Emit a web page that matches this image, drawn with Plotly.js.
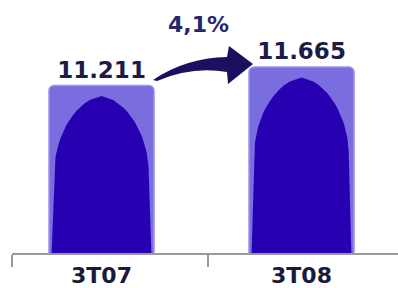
<!DOCTYPE html>
<html><head><meta charset="utf-8">
<script src="https://cdn.plot.ly/plotly-3.0.1.min.js"></script>
<style>html,body{margin:0;padding:0;background:#fff}#c{width:398px;height:288px}</style>
</head><body><div id="c"></div>
<script>
const categories = ['3T07', '3T08'];
const values = [11211, 11665];
const changeLabel = ['4,1%'];
const xPos = [0, 1];

const W = 398, H = 288, ML = 12, MB = 35;
const yRange = [7100, 13310];
const xRange = [-0.4475, 1.4825];
const plotH = H - MB, plotW = W - ML;
const uPerPx = (yRange[1] - yRange[0]) / plotH;
const barW = 0.525;

const FONT = 'DejaVu Sans, Verdana, sans-serif';
const traces = [];
traces.push({
  type: 'bar', x: xPos, y: values, width: barW,
  marker: {color: '#7a6ddf', line: {color: '#9c92ec', width: 1.5}, cornerradius: 5},
  text: values, texttemplate: '%{y:,.0f}', textposition: 'outside',
  textfont: {family: FONT, size: 23, weight: 'bold', color: '#1c1c48'},
  constraintext: 'none', cliponaxis: false, hoverinfo: 'skip'
});
values.forEach((v, i) => {
  const cx = xPos[i];
  const hw = barW / 2 * 0.9, hwBase = barW / 2 * 0.95;
  const apex = v - 10.5 * uPerPx;
  const depth = 78 * uPerPx;
  const xs = [], ys = [];
  xs.push(cx - hwBase); ys.push(yRange[0]);
  for (let k = 20; k >= 0; k--) { const s = k / 20; xs.push(cx - hw * Math.pow(1 - (1 - s) * (1 - s), 0.6)); ys.push(apex - s * depth); }
  for (let k = 1; k <= 20; k++) { const s = k / 20; xs.push(cx + hw * Math.pow(1 - (1 - s) * (1 - s), 0.6)); ys.push(apex - s * depth); }
  xs.push(cx + hwBase); ys.push(yRange[0]);
  traces.push({type: 'scatter', x: xs, y: ys, mode: 'lines', fill: 'toself', fillcolor: '#2700b2',
    line: {width: 0, color: '#2700b2'}, hoverinfo: 'skip', showlegend: false});
});

function P(px, py) { return ((px - ML) / plotW).toFixed(4) + ',' + ((plotH - py) / plotH).toFixed(4); }
const arrowPath = 'M' + P(153, 80) + ' Q' + P(185, 58) + ' ' + P(227, 57) + ' L' + P(229, 46) + ' L' + P(253, 64) +
  ' L' + P(228, 84) + ' L' + P(227, 72) + ' Q' + P(192, 66) + ' ' + P(157, 81) + ' Z';

const layout = {
  width: W, height: H, margin: {l: ML, r: 0, t: 0, b: MB},
  paper_bgcolor: '#fff', plot_bgcolor: '#fff', showlegend: false,
  separators: ',.',
  xaxis: {range: xRange, tickmode: 'array', tickvals: xPos, ticktext: categories, ticks: '',
    showline: true, linecolor: '#9a9a9a', linewidth: 2, showgrid: false, zeroline: false,
    tickfont: {family: FONT, size: 22, weight: 'bold', color: '#1a1a3a'}, ticklabelstandoff: 2,
    minor: {tickmode: 'array', tickvals: [-0.4475, 0.5325], ticks: 'outside', ticklen: 12, tickwidth: 2, tickcolor: '#9a9a9a', showgrid: false}},
  yaxis: {range: yRange, visible: false, showgrid: false, zeroline: false},
  annotations: [{xref: 'paper', yref: 'paper', x: (198 - ML) / plotW, y: (plotH - 25) / plotH, xanchor: 'center', yanchor: 'middle',
    text: changeLabel[0], showarrow: false, font: {family: FONT, size: 22, weight: 'bold', color: '#26266e'}}],
  shapes: [{type: 'path', xref: 'paper', yref: 'paper', path: arrowPath, fillcolor: '#1b1060', line: {width: 0}, layer: 'above'}]
};
Plotly.newPlot('c', traces, layout, {staticPlot: true, displayModeBar: false});
</script></body></html>
